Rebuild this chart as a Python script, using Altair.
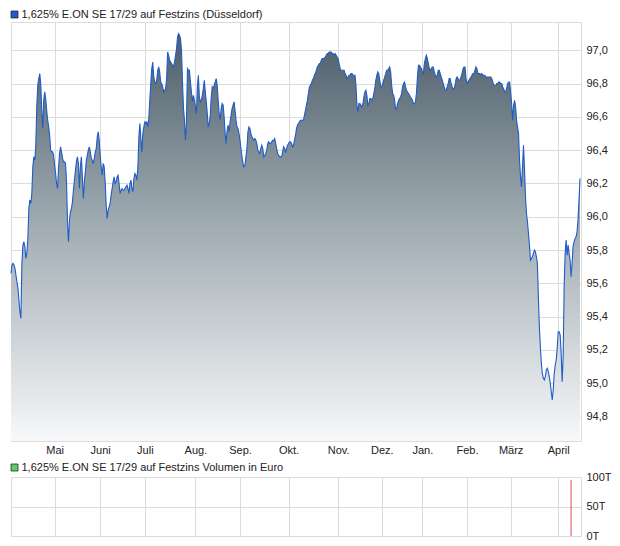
import altair as alt
import pandas as pd

price_title = "1,625% E.ON SE 17/29 auf Festzins (Düsseldorf)"
volume_title = "1,625% E.ON SE 17/29 auf Festzins Volumen in Euro"

# Kurs (one reading per pixel column of the reference), April–July
prices_apr_jul = [
    95.66, 95.71, 95.72, 95.71, 95.69, 95.65, 95.61, 95.57, 95.50, 95.43,
    95.39, 95.72, 95.83, 95.85, 95.82, 95.75, 95.78, 95.87, 96.05, 96.10,
    96.08, 96.14, 96.30, 96.36, 96.34, 96.43, 96.66, 96.79, 96.83, 96.86,
    96.80, 96.64, 96.53, 96.70, 96.75, 96.71, 96.64, 96.58, 96.54, 96.49,
    96.40, 96.39, 96.39, 96.37, 96.31, 96.26, 96.20, 96.17, 96.30, 96.38,
    96.42, 96.39, 96.35, 96.33, 96.33, 96.32, 96.21, 95.97, 95.85, 95.98,
    96.03, 96.05, 96.09, 96.16, 96.22, 96.28, 96.33, 96.36, 96.32, 96.17,
    96.30, 96.36, 96.24, 96.11, 96.21, 96.27, 96.34, 96.37, 96.40, 96.42,
    96.39, 96.35, 96.34, 96.32, 96.35, 96.39, 96.41, 96.48, 96.51, 96.46,
    96.37, 96.30, 96.25, 96.32, 96.30, 96.21, 96.07, 95.99, 96.04, 96.06,
    96.08, 96.13, 96.17, 96.21, 96.24, 96.20, 96.21, 96.24, 96.25, 96.20,
    96.14, 96.16, 96.17, 96.16, 96.16, 96.17, 96.18, 96.19, 96.17, 96.14,
    96.20, 96.22, 96.17, 96.15, 96.23, 96.26, 96.25, 96.22, 96.30, 96.48,
    96.56, 96.47, 96.39, 96.50, 96.54, 96.57, 96.56, 96.57, 96.54, 96.59,
    96.70, 96.80, 96.89, 96.93, 96.84, 96.81, 96.80, 96.82, 96.88, 96.90,
    96.87, 96.81, 96.80, 96.78, 96.75, 96.76, 96.77, 96.83, 96.99, 96.97,
    96.94, 96.93, 96.92, 96.91, 96.90, 96.93, 96.97, 97.01, 97.08, 97.10,
    97.09, 97.07, 97.00, 96.81, 96.65, 96.58, 96.46, 96.57, 96.89, 96.88,
    96.88, 96.81, 96.75, 96.69, 96.73, 96.70, 96.66, 96.62, 96.78, 96.85,
    96.72, 96.69, 96.70, 96.73, 96.77, 96.82, 96.75,
]

# August–November
prices_aug_nov = [
    96.69, 96.62, 96.54, 96.56, 96.61, 96.72, 96.78, 96.77, 96.79, 96.81,
    96.83, 96.79, 96.70, 96.62, 96.58, 96.65, 96.68, 96.67, 96.60, 96.50,
    96.44, 96.52, 96.55, 96.51, 96.57, 96.61, 96.65, 96.67, 96.69, 96.64,
    96.58, 96.54, 96.53, 96.50, 96.46, 96.41, 96.36, 96.32, 96.30, 96.31,
    96.36, 96.41, 96.51, 96.54, 96.53, 96.50, 96.48, 96.47, 96.46, 96.47,
    96.46, 96.44, 96.40, 96.39, 96.38, 96.41, 96.43, 96.41, 96.36, 96.37,
    96.38, 96.40, 96.44, 96.45, 96.44, 96.44, 96.45, 96.46, 96.46, 96.47,
    96.44, 96.41, 96.38, 96.37, 96.36, 96.36, 96.36, 96.39, 96.42, 96.41,
    96.39, 96.41, 96.43, 96.44, 96.45, 96.45, 96.44, 96.42, 96.43, 96.46,
    96.49, 96.53, 96.55, 96.56, 96.57, 96.58, 96.58, 96.58, 96.58, 96.61,
    96.64, 96.67, 96.70, 96.74, 96.78, 96.79, 96.80, 96.82, 96.83, 96.85,
    96.86, 96.88, 96.90, 96.91, 96.92, 96.92, 96.94, 96.95, 96.95, 96.95,
    96.96, 96.97, 96.98, 96.98, 96.99, 96.99, 96.99, 96.98, 96.98, 96.97,
    96.98, 96.97, 96.96, 96.95, 96.92, 96.89, 96.88, 96.88, 96.88, 96.88,
    96.86, 96.85, 96.83, 96.84, 96.85, 96.85, 96.86, 96.86, 96.85, 96.85,
    96.85, 96.79, 96.67, 96.63, 96.68, 96.68, 96.67, 96.66, 96.68, 96.72,
    96.75, 96.76, 96.73, 96.67, 96.68, 96.71, 96.71, 96.70, 96.71, 96.74,
    96.77, 96.82, 96.85, 96.87, 96.86, 96.82, 96.78, 96.78, 96.80, 96.82,
    96.84, 96.86, 96.88, 96.88, 96.89, 96.90, 96.87, 96.79, 96.74, 96.73,
    96.70, 96.65, 96.65, 96.68, 96.70, 96.71, 96.72, 96.74, 96.78, 96.80,
]

# December–April
prices_dec_apr = [
    96.81, 96.78, 96.76, 96.75, 96.74, 96.73, 96.72, 96.71, 96.70, 96.68,
    96.68, 96.69, 96.74, 96.84, 96.91, 96.91, 96.90, 96.89, 96.87, 96.86,
    96.92, 96.95, 96.97, 96.95, 96.92, 96.89, 96.88, 96.89, 96.90, 96.90,
    96.87, 96.85, 96.84, 96.85, 96.88, 96.88, 96.86, 96.84, 96.82, 96.80,
    96.78, 96.76, 96.76, 96.78, 96.80, 96.83, 96.83, 96.80, 96.78, 96.77,
    96.77, 96.79, 96.83, 96.84, 96.83, 96.82, 96.82, 96.84, 96.86, 96.89,
    96.90, 96.90, 96.83, 96.80, 96.81, 96.82, 96.83, 96.84, 96.85, 96.86,
    96.86, 96.88, 96.90, 96.89, 96.86, 96.86, 96.86, 96.85, 96.86, 96.85,
    96.85, 96.85, 96.84, 96.84, 96.84, 96.84, 96.84, 96.84, 96.83, 96.81,
    96.79, 96.79, 96.79, 96.80, 96.80, 96.81, 96.81, 96.80, 96.80, 96.78,
    96.77, 96.75, 96.75, 96.77, 96.80, 96.81, 96.81, 96.75, 96.68, 96.58,
    96.67, 96.70, 96.66, 96.58, 96.54, 96.50, 96.34, 96.24, 96.18, 96.30,
    96.43, 96.29, 96.12, 96.02, 95.97, 95.90, 95.83, 95.74, 95.75, 95.76,
    95.78, 95.80, 95.79, 95.76, 95.72, 95.52, 95.34, 95.22, 95.12, 95.06,
    95.03, 95.02, 95.04, 95.08, 95.09, 95.07, 95.04, 95.00, 94.95, 94.90,
    94.96, 95.06, 95.11, 95.14, 95.21, 95.31, 95.31, 95.29, 95.18, 95.01,
    95.16, 95.58, 95.78, 95.86, 95.77, 95.83, 95.78, 95.74, 95.64, 95.72,
    95.82, 95.85, 95.87, 95.88, 95.91, 95.98, 96.10, 96.23,
]

month_labels = ["Mai", "Juni", "Juli", "Aug.", "Sep.", "Okt.", "Nov.",
                "Dez.", "Jan.", "Feb.", "März", "April"]
month_starts = [44, 90, 135, 186, 231, 280, 330, 374, 415, 460, 504, 552]
price_ticks = [94.8, 95.0, 95.2, 95.4, 95.6, 95.8, 96.0, 96.2, 96.4, 96.6, 96.8, 97.0]
volume_ticks = [0, 50, 100]
volume_days = [565]
volume_values = [95]  # in T (thousand euro)

prices = prices_apr_jul + prices_aug_nov + prices_dec_apr
price_df = pd.DataFrame({"tag": list(range(len(prices))), "kurs": prices})
vol_df = pd.DataFrame({"tag": volume_days, "volumen": volume_values})

FONT = "Liberation Sans, Arial, Helvetica, sans-serif"
TEXT = "#222222"
GRID = "#dcdcdc"
LINE_BLUE = "#1f5cc7"

PLOT_W = 570
TOP_H = 419
VOL_H = 59
Y_LO, Y_HI = 94.6534, 97.170

x_scale = alt.Scale(domain=[0, 575], nice=False, zero=False)
y_scale = alt.Scale(domain=[Y_LO, Y_HI], nice=False, zero=False)

month_expr = " : ".join(
    f"datum.value == {p} ? '{m}'" for p, m in zip(month_starts, month_labels)
) + " : ''"

x_axis_top = alt.Axis(values=month_starts, labelExpr=month_expr, grid=True,
                      gridColor=GRID, ticks=False, tickSize=0, domain=False,
                      labelPadding=3, labelFlush=False, labelOverlap=False,
                      labelAngle=0, labelFont=FONT, labelFontSize=11,
                      labelColor=TEXT, title=None)
y_axis_top = alt.Axis(orient="right", values=price_ticks,
                      labelExpr="replace(format(datum.value, '.1f'), '.', ',')",
                      grid=True, gridColor=GRID, ticks=False, tickSize=0,
                      domain=False, labelPadding=5, labelFont=FONT,
                      labelFontSize=11, labelColor=TEXT, title=None)

fill = alt.Gradient(
    gradient="linear",
    stops=[alt.GradientStop(color="#f7f8f9", offset=0),
           alt.GradientStop(color="#c6cdd1", offset=0.3),
           alt.GradientStop(color="#98a4ab", offset=0.58),
           alt.GradientStop(color="#4d5d69", offset=1)],
    x1=0, x2=0, y1=1, y2=0,
)

base = alt.Chart(price_df).encode(
    x=alt.X("tag:Q", scale=x_scale, axis=x_axis_top),
    y=alt.Y("kurs:Q", scale=y_scale, axis=y_axis_top),
)
area = base.mark_area(color=fill).encode(y2=alt.Y2Datum(Y_LO))
line = base.mark_line(color=LINE_BLUE, strokeWidth=1.1)

leg1 = alt.Chart(pd.DataFrame({"label": [price_title]}))
sq1 = leg1.mark_square(size=49, filled=True, fill=LINE_BLUE, stroke="#2b2b2b",
                       strokeWidth=0.8, opacity=1).encode(
    x=alt.value(3.5), y=alt.value(-7.5))
txt1 = leg1.mark_text(align="left", baseline="middle", font=FONT, fontSize=11,
                      color=TEXT).encode(
    x=alt.value(10.5), y=alt.value(-7.5), text="label:N")

top = alt.layer(area, line, sq1, txt1).properties(width=PLOT_W, height=TOP_H)

x_axis_bottom = alt.Axis(values=month_starts, labels=False, grid=True,
                         gridColor=GRID, ticks=False, domain=False, title=None)
y_axis_bottom = alt.Axis(orient="right", values=volume_ticks,
                         labelExpr="datum.value + 'T'", grid=True,
                         gridColor=GRID, ticks=False, tickSize=0, domain=False,
                         labelPadding=5, labelFont=FONT, labelFontSize=11,
                         labelColor=TEXT, title=None)

vol = alt.Chart(vol_df).mark_rule(color="#e04848", strokeWidth=1).encode(
    x=alt.X("tag:Q", scale=x_scale, axis=x_axis_bottom),
    y=alt.Y("volumen:Q", scale=alt.Scale(domain=[0, 100], nice=False),
            axis=y_axis_bottom),
    y2=alt.Y2Datum(0),
)

leg2 = alt.Chart(pd.DataFrame({"label": [volume_title]}))
sq2 = leg2.mark_square(size=49, filled=True, fill="#5fcc5f", stroke="#2b2b2b",
                       strokeWidth=0.8, opacity=1).encode(
    x=alt.value(3.5), y=alt.value(-9.5))
txt2 = leg2.mark_text(align="left", baseline="middle", font=FONT, fontSize=11,
                      color=TEXT).encode(
    x=alt.value(10.5), y=alt.value(-9.5), text="label:N")

bottom = alt.layer(vol, sq2, txt2).properties(width=PLOT_W, height=VOL_H)

chart = alt.vconcat(top, bottom, spacing=5).properties(
    padding={"left": 0, "top": 0, "right": 0, "bottom": 0},
    background="white",
).configure_view(stroke=GRID, strokeWidth=1)

chart.save("out.html", embed_options={"renderer": "svg", "actions": False})
